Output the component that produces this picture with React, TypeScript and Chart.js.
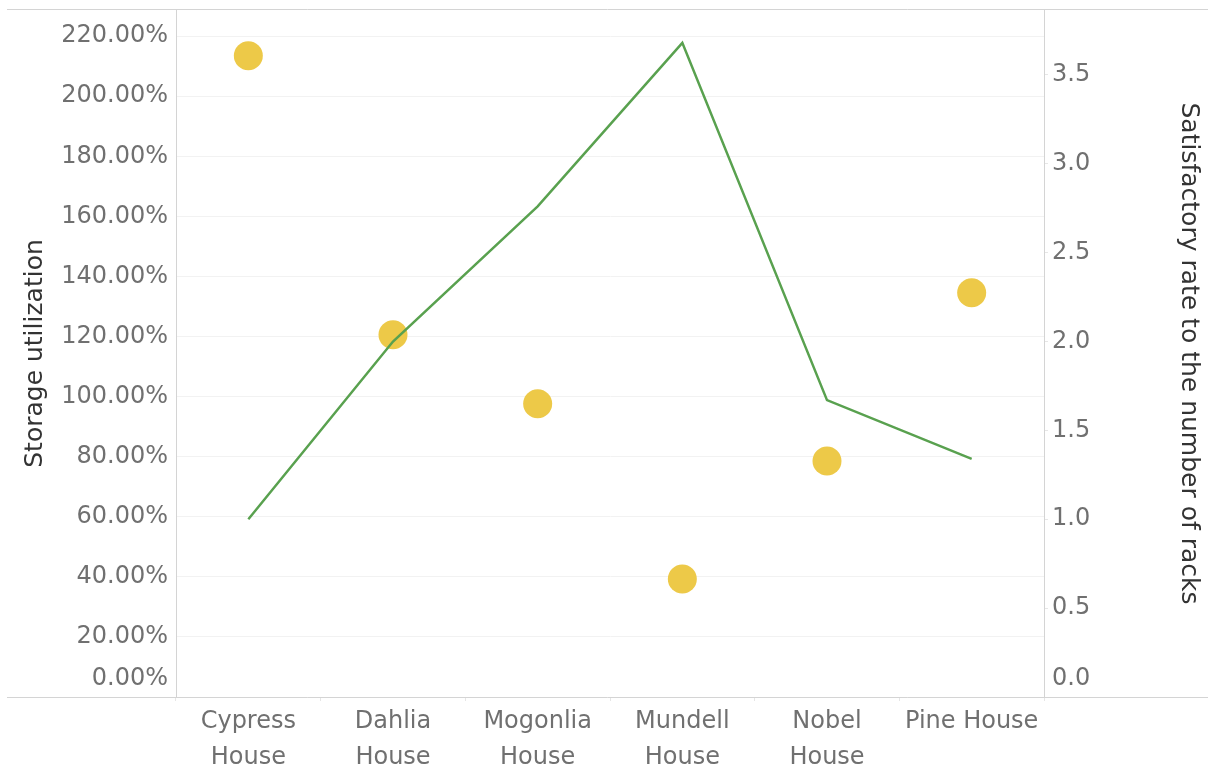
import React, { useEffect, useRef } from "react";
import { Chart, registerables } from "chart.js";

Chart.register(...registerables);

const categories: string[][] = [
  ["Cypress", "House"],
  ["Dahlia", "House"],
  ["Mogonlia", "House"],
  ["Mundell", "House"],
  ["Nobel", "House"],
  ["Pine House"],
];
const storageUtilization: number[] = [213.5, 120.6, 97.6, 39.3, 78.6, 134.6];
const satisfactoryRate: number[] = [1.0, 2.0, 2.76, 3.68, 1.67, 1.34];
const leftAxisTitle = "Storage utilization";
const rightAxisTitle = "Satisfactory rate to the number of racks";

const FONT = "'DejaVu Sans', sans-serif";

export default function App() {
  const ref = useRef<HTMLCanvasElement | null>(null);

  useEffect(() => {
    if (!ref.current) return;
    const framePlugin = {
      id: "frame",
      afterDraw(chart: any) {
        const { ctx, chartArea } = chart;
        ctx.save();
        ctx.strokeStyle = "#d4d4d4";
        ctx.lineWidth = 1;
        ctx.beginPath();
        ctx.moveTo(7, chartArea.top - 0.5);
        ctx.lineTo(chart.width, chartArea.top - 0.5);
        ctx.moveTo(7, chartArea.bottom + 0.5);
        ctx.lineTo(chart.width, chartArea.bottom + 0.5);
        ctx.stroke();
        ctx.restore();
      },
    };
    const noPad = (scale: any) => {
      scale.paddingTop = 0;
      scale.paddingBottom = 0;
    };
    const chart = new Chart(ref.current, {
      type: "line",
      data: {
        labels: categories,
        datasets: [
          {
            label: rightAxisTitle,
            data: satisfactoryRate,
            yAxisID: "y1",
            borderColor: "#59A14F",
            borderWidth: 2.5,
            pointRadius: 0,
            fill: false,
            tension: 0,
          },
          {
            label: leftAxisTitle,
            data: storageUtilization,
            yAxisID: "y",
            showLine: false,
            pointRadius: 14.5,
            pointHoverRadius: 14.5,
            pointBackgroundColor: "#EDC948",
            pointBorderColor: "#EDC948",
            pointBorderWidth: 0,
          },
        ],
      },
      options: {
        animation: false,
        responsive: false,
        maintainAspectRatio: false,
        layout: { autoPadding: false, padding: { top: 10, left: 0, right: 0, bottom: 0 } },
        plugins: { legend: { display: false }, tooltip: { enabled: false } },
        scales: {
          x: {
            offset: true,
            border: { display: false },
            grid: {
              offset: true,
              drawOnChartArea: false,
              drawTicks: true,
              tickLength: 4,
              color: "#e6e6e6",
            },
            ticks: {
              color: "#707070",
              font: { family: FONT, size: 24, lineHeight: 1.5 },
              padding: 3,
              maxRotation: 0,
              autoSkip: false,
            },
            afterFit(scale: any) {
              scale.height = 73;
              scale.paddingLeft = 0;
              scale.paddingRight = 0;
            },
          },
          y: {
            position: "left",
            min: 0,
            max: 228.7,
            border: { display: true, color: "#d4d4d4" },
            grid: { color: "#f2f2f2", drawTicks: false },
            ticks: {
              stepSize: 20,
              includeBounds: false,
              autoSkip: false,
              color: "#707070",
              padding: 8,
              font: { family: FONT, size: 24, lineHeight: 1.5 },
              callback: (v: any) => {
                const s = Number(v).toFixed(2) + "%";
                return Number(v) === 0 ? [s, ""] : s;
              },
            },
            title: {
              display: true,
              text: leftAxisTitle,
              color: "#333333",
              font: { family: FONT, size: 25 },
              padding: { top: 20, bottom: 0 },
            },
            afterFit(scale: any) {
              scale.width = 176;
              noPad(scale);
            },
          },
          y1: {
            position: "right",
            min: 0,
            max: 3.865,
            border: { display: true, color: "#d4d4d4" },
            grid: { drawOnChartArea: false, color: "#e6e6e6", tickLength: 4 },
            ticks: {
              stepSize: 0.5,
              includeBounds: false,
              autoSkip: false,
              color: "#707070",
              padding: 4,
              font: { family: FONT, size: 24, lineHeight: 1.5 },
              callback: (v: any) => {
                const s = Number(v).toFixed(1);
                return Number(v) === 0 ? [s, ""] : s;
              },
            },
            title: {
              display: true,
              text: rightAxisTitle,
              color: "#333333",
              font: { family: FONT, size: 25 },
              padding: { top: 5, bottom: 0 },
            },
            afterFit(scale: any) {
              scale.width = 164;
              noPad(scale);
            },
          },
        },
      },
      plugins: [framePlugin],
    });
    return () => chart.destroy();
  }, []);

  return (
    <div style={{ position: "fixed", left: 0, top: 0, width: 1208, height: 770, background: "#fff" }}>
      <canvas ref={ref} width={1208} height={770} style={{ width: 1208, height: 770 }} />
    </div>
  );
}
